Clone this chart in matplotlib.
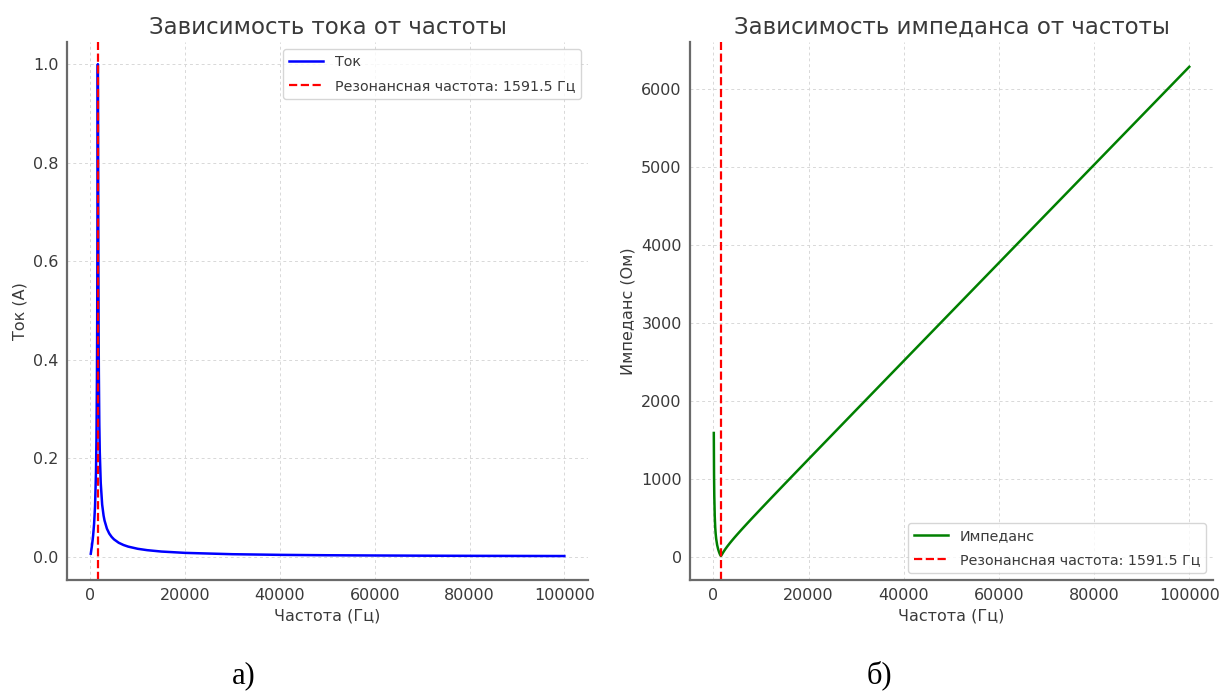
#!/usr/bin/env python3
"""Current and impedance of a series RLC circuit versus frequency."""

import matplotlib

matplotlib.use("Agg")
import matplotlib.pyplot as plt

# frequency samples, Hz
freq_hz = [
    100, 150, 200, 300, 400, 500, 600, 800, 1000, 1200, 1300, 1400, 1450,
    1500, 1530, 1550, 1570, 1580, 1591.5, 1600, 1620, 1650, 1700, 1750, 1800,
    1900, 2000, 2200, 2500, 2800, 3000, 3500, 4000, 4500, 5000, 6000, 7000,
    8000, 10000, 12000, 15000, 20000, 30000, 40000, 50000, 60000, 70000,
    80000, 90000, 100000,
]
# current, A
current_a = [
    0.0063, 0.0095, 0.0128, 0.0195, 0.0268, 0.0348, 0.0439, 0.0671, 0.103,
    0.172, 0.239, 0.362, 0.472, 0.645, 0.785, 0.884, 0.965, 0.989, 1.0, 0.994,
    0.942, 0.811, 0.604, 0.466, 0.376, 0.270, 0.212, 0.150, 0.106, 0.0837,
    0.0737, 0.0572, 0.0472, 0.0404, 0.0354, 0.0285, 0.0240, 0.0207, 0.0163,
    0.0135, 0.0107, 0.0080, 0.0053, 0.0040, 0.0032, 0.0027, 0.0023, 0.0020,
    0.0018, 0.0016,
]
# impedance, Ohm
impedance_ohm = [
    1585.2, 1051.6, 783.2, 511.8, 372.9, 287.1, 227.8, 149.0, 96.8, 58.1,
    41.9, 27.6, 21.2, 15.5, 12.7, 11.3, 10.4, 10.1, 10.0, 10.1, 10.6, 12.3,
    16.6, 21.5, 26.6, 37.0, 47.2, 66.6, 94.0, 119.5, 135.8, 174.7, 211.7,
    247.6, 282.5, 350.6, 417.2, 482.9, 612.5, 740.8, 931.9, 1248.7, 1879.7,
    2509.3, 3138.4, 3767.3, 4396.0, 5024.5, 5653.1, 6281.6,
]
resonance_hz = 1591.5

TEXT = "#3a3a3a"
SPINE = "#6a6a6a"


def _style(ax):
    for side in ("top", "right"):
        ax.spines[side].set_visible(False)
    for side in ("left", "bottom"):
        ax.spines[side].set_color(SPINE)
        ax.spines[side].set_linewidth(1.6)
    ax.grid(True, linestyle=(0, (3, 3)), color="#d8d8d8", linewidth=0.7)
    ax.tick_params(length=0, pad=6, labelsize=11.5, labelcolor=TEXT)


def _legend(ax, loc):
    leg = ax.legend(loc=loc, fontsize=10.3, edgecolor="#cccccc",
                    handlelength=2.4, labelspacing=0.7)
    for t in leg.get_texts():
        t.set_color(TEXT)


fig = plt.figure(figsize=(12.2, 6.96), dpi=100)
ax1 = fig.add_axes([0.055, 0.1667, 0.427, 0.773])
ax2 = fig.add_axes([0.5656, 0.1667, 0.4287, 0.773])

ax1.plot(freq_hz, current_a, color="blue", linewidth=1.8, label="Ток")
ax1.axvline(resonance_hz, color="red", linestyle="--", linewidth=1.6,
            label=f"Резонансная частота: {resonance_hz} Гц")
ax1.set_title("Зависимость тока от частоты", fontsize=16.5, color=TEXT)
ax1.set_xlabel("Частота (Гц)", fontsize=11.5, color=TEXT)
ax1.set_ylabel("Ток (А)", fontsize=11.5, color=TEXT)
ax1.set_xticks([0, 20000, 40000, 60000, 80000, 100000])
ax1.set_yticks([0.0, 0.2, 0.4, 0.6, 0.8, 1.0])
ax1.set_ylim(-0.047, 1.045)
_style(ax1)
_legend(ax1, "upper right")

ax2.plot(freq_hz, impedance_ohm, color="green", linewidth=1.8, label="Импеданс")
ax2.axvline(resonance_hz, color="red", linestyle="--", linewidth=1.6,
            label=f"Резонансная частота: {resonance_hz} Гц")
ax2.set_title("Зависимость импеданса от частоты", fontsize=16.5, color=TEXT)
ax2.set_xlabel("Частота (Гц)", fontsize=11.5, color=TEXT)
ax2.set_ylabel("Импеданс (Ом)", fontsize=11.5, color=TEXT)
ax2.set_xticks([0, 20000, 40000, 60000, 80000, 100000])
ax2.set_yticks([0, 1000, 2000, 3000, 4000, 5000, 6000])
ax2.set_ylim(-300, 6600)
_style(ax2)
_legend(ax2, "lower right")

fig.text(0.20, 0.018, "а)", fontsize=22, family="Liberation Serif", ha="center")
fig.text(0.721, 0.018, "б)", fontsize=22, family="Liberation Serif", ha="center")

fig.savefig("out.png", dpi=100)
